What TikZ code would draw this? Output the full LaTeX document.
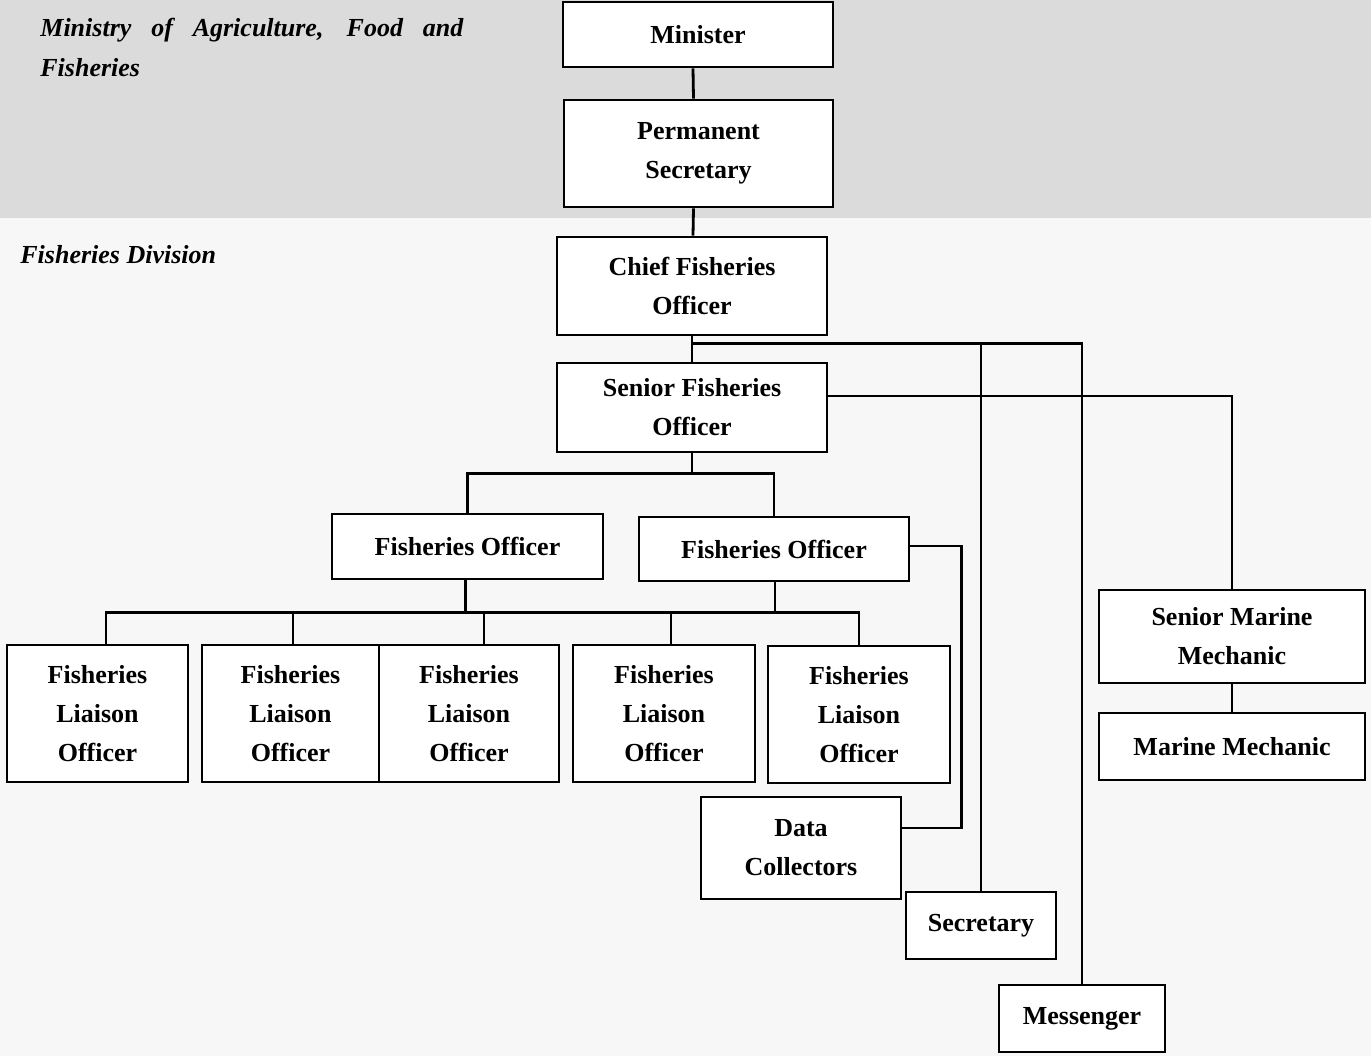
\documentclass[tikz,border=0pt]{standalone}
\usepackage{fontspec}
\setmainfont{Liberation Serif}
\usetikzlibrary{calc}
\begin{document}
\begin{tikzpicture}[x=0.5pt,y=-0.5pt,
  box/.style={draw=black, line width=1.4pt, fill=white, inner sep=0pt,
    align=center, font=\fontsize{13pt}{19.5pt}\selectfont\bfseries},
  link/.style={draw=black, line width=1.4pt},
  title/.style={inner sep=0pt, font=\fontsize{13pt}{20pt}\selectfont\bfseries\itshape}]
\useasboundingbox (0,0) rectangle (1371,1056);
% page background: ministry band and division area
\fill[black!3] (0,0) rectangle (1371,1056);
\fill[black!14] (0,0) rectangle (1371,218);

% section labels
\node[title, anchor=base west, text width=211.5pt, align=justify] (ministry) at (40,36)
  {\hyphenpenalty=10000 Ministry of Agriculture, Food and\linebreak Fisheries};
\node[title, anchor=base west] (division) at (20,263) {Fisheries Division};

% boxes
\node[box, minimum width=135pt, minimum height=32.5pt] (min) at (698,34.5) {Minister};
\node[box, minimum width=134.5pt, minimum height=53.5pt] (ps) at (698.5,153.5) {Permanent\\Secretary};
\node[box, minimum width=135pt, minimum height=49pt] (cfo) at (692,286) {Chief Fisheries\\Officer};
\node[box, minimum width=135pt, minimum height=44.5pt] (sfo) at (692,407.5) {Senior Fisheries\\Officer};
\node[box, minimum width=135.5pt, minimum height=32.5pt] (foL) at (467.5,546.5) {Fisheries Officer};
\node[box, minimum width=135pt, minimum height=32pt] (foR) at (774,549) {Fisheries Officer};
\node[box, minimum width=90.5pt, minimum height=68.5pt] (flo1) at (97.5,713.5) {Fisheries\\Liaison\\Officer};
\node[box, minimum width=88.5pt, minimum height=68.5pt] (flo2) at (290.5,713.5) {Fisheries\\Liaison\\Officer};
\node[box, minimum width=90pt, minimum height=68.5pt] (flo3) at (469,713.5) {Fisheries\\Liaison\\Officer};
\node[box, minimum width=91pt, minimum height=68.5pt] (flo4) at (664,713.5) {Fisheries\\Liaison\\Officer};
\node[box, minimum width=91pt, minimum height=68.5pt] (flo5) at (859,714.5) {Fisheries\\Liaison\\Officer};
\node[box, minimum width=100pt, minimum height=51pt] (dc) at (801,848) {Data\\Collectors};
\node[box, minimum width=75pt, minimum height=33.5pt] (sec) at (981,925.5) {Secretary};
\node[box, minimum width=83pt, minimum height=33.5pt] (mes) at (1082,1018.5) {Messenger};
\node[box, minimum width=133pt, minimum height=46.5pt] (smm) at (1232,636.5) {Senior Marine\\Mechanic};
\node[box, minimum width=133pt, minimum height=33.5pt] (mm) at (1232,746.5) {Marine Mechanic};

% reporting lines
\draw[link] ([xshift=-2.5pt]min.south) -- ([xshift=-2.5pt]ps.north);
\draw[link] ([xshift=-2.5pt]ps.south) -- ([xshift=0.5pt]cfo.north);
\draw[link] (cfo.south) -- (sfo.north);
\coordinate (cb) at ($(cfo.south)+(0,7)$);
\draw[link] (cb) -| (sec.north);
\draw[link] (cb) -| (mes.north);
\draw[link] ([yshift=5.75pt]sfo.east) -| (smm.north);
\draw[link] (smm.south) -- (mm.north);
\coordinate (sb) at ($(sfo.south)+(0,20)$);
\draw[link] (sfo.south) -- (sb);
\draw[link] (foL.north) |- (sb) -| (foR.north);
\coordinate (fb) at ($(foL.south)+(0,32)$);
\draw[link] ([xshift=-1pt]foL.south) -- ([xshift=-1pt]foL.south |- fb);
\draw[link] ([xshift=0.5pt]foR.south) -- ([xshift=0.5pt]foR.south |- fb);
\draw[link] ([xshift=4.25pt]flo1.north) |- (flo5.north |- fb) -- (flo5.north);
\draw[link] ([xshift=1.25pt]flo2.north) -- ([xshift=1.25pt]flo2.north |- fb);
\draw[link] ([xshift=7.5pt]flo3.north) -- ([xshift=7.5pt]flo3.north |- fb);
\draw[link] ([xshift=3.5pt]flo4.north) -- ([xshift=3.5pt]flo4.north |- fb);
\draw[link] ([yshift=1.5pt]foR.east) -- ++(51,0) |- ([yshift=10pt]dc.east);
\end{tikzpicture}
\end{document}
